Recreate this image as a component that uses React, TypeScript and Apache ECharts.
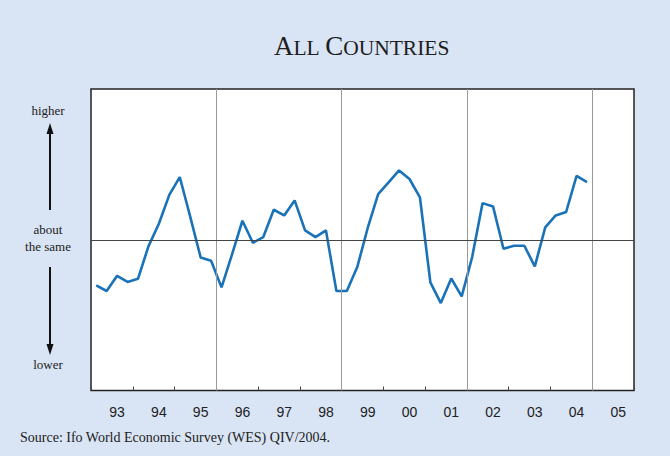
import React, { useEffect, useRef } from "react";
import * as echarts from "echarts";

const startYear = 1993;
const yearLabels = ["93", "94", "95", "96", "97", "98", "99", "00", "01", "02", "03", "04", "05"];
// Quarterly economic expectations balance, 1993Q1 .. 2004Q4
const values = [
  -30.3, -34.0, -23.9, -28.0,
  -25.9, -4.4, 10.6, 29.8,
  41.6, 15.3, -11.7, -13.9,
  -31.6, -9.9, 12.6, -2.0,
  1.8, 19.9, 16.1, 26.1,
  6.2, 1.8, 6.2, -34.0,
  -34.0, -18.1, 7.8, 30.3,
  38.0, 46.0, 40.3, 28.1,
  -28.3, -42.0, -25.7, -37.6,
  -11.5, 24.3, 22.1, -6.0,
  -4.0, -4.0, -17.7, 8.2,
  16.1, 18.4, 42.4, 38.3,
];
const gridYears = [1996, 1999, 2002, 2005];

const serif = "'Liberation Serif', 'Times New Roman', serif";
const sans = "'Liberation Sans', Arial, sans-serif";

export default function App() {
  const ref = useRef<HTMLDivElement>(null);
  useEffect(() => {
    document.body.style.margin = "0";
    const chart = echarts.init(ref.current!, null, { renderer: "svg" });
    const data = values.map((v, i) => [startYear + (i + 0.5) / 4, v]);
    const endYear = startYear + yearLabels.length;
    chart.setOption({
      animation: false,
      backgroundColor: "#d9e4f4",
      title: {
        left: 269,
        top: 27,
        text: "{b|A}{s|LL }{b|C}{s|OUNTRIES}",
        textStyle: {
          fontWeight: "normal",
          rich: {
            b: { fontFamily: serif, fontSize: 27, fontWeight: "normal", color: "#1e1e1e", verticalAlign: "bottom" },
            s: { fontFamily: serif, fontSize: 21.5, fontWeight: "normal", color: "#1e1e1e", verticalAlign: "bottom" },
          },
        },
      },
      grid: {
        left: 91,
        top: 89,
        width: 543,
        height: 301.5,
        show: true,
        backgroundColor: "#ffffff",
        borderColor: "#222",
        borderWidth: 1.5,
      },
      xAxis: [
        {
          type: "value",
          min: startYear,
          max: endYear,
          interval: 1,
          axisLine: { show: false, onZero: false },
          axisTick: { show: true, inside: true, length: 4, lineStyle: { color: "#444", width: 1 } },
          axisLabel: { show: false },
          splitLine: { show: false },
        },
        {
          type: "value",
          min: startYear,
          max: endYear,
          interval: 0.125,
          position: "bottom",
          axisLine: { show: false, onZero: false },
          axisTick: { show: false },
          splitLine: { show: false },
          axisLabel: {
            margin: 14,
            fontFamily: sans,
            fontSize: 14,
            color: "#222",
            formatter: (v: number) => {
              const frac = v - Math.floor(v);
              const idx = Math.floor(v) - startYear;
              if (Math.abs(frac - 0.625) < 1e-6 && idx >= 0 && idx < yearLabels.length) {
                return yearLabels[idx];
              }
              return "";
            },
          },
        },
      ],
      yAxis: { type: "value", min: -100, max: 100, show: false },
      series: [
        {
          type: "line",
          data,
          xAxisIndex: 0,
          symbol: "none",
          lineStyle: { color: "#1a72b8", width: 2.6 },
          markLine: {
            silent: true,
            symbol: "none",
            label: { show: false },
            data: [
              ...gridYears.map((y) => ({ xAxis: y, lineStyle: { color: "#999", width: 1, type: "solid" } })),
              { yAxis: 0, lineStyle: { color: "#444", width: 1.2, type: "solid" } },
            ],
          },
        },
      ],
      graphic: [
        { type: "text", x: 48, y: 110, style: { text: "higher", font: `13px ${serif}`, fill: "#222", textAlign: "center", textVerticalAlign: "middle" } },
        { type: "text", x: 48, y: 238, style: { text: "about\nthe same", font: `13px ${serif}`, fill: "#222", textAlign: "center", textVerticalAlign: "middle", lineHeight: 17 } },
        { type: "text", x: 48, y: 364, style: { text: "lower", font: `13px ${serif}`, fill: "#222", textAlign: "center", textVerticalAlign: "middle" } },
        { type: "line", shape: { x1: 50, y1: 210, x2: 50, y2: 132 }, style: { stroke: "#111", lineWidth: 2 } },
        { type: "polygon", shape: { points: [[50, 123], [46.5, 134], [53.5, 134]] }, style: { fill: "#111" } },
        { type: "line", shape: { x1: 50, y1: 267, x2: 50, y2: 346 }, style: { stroke: "#111", lineWidth: 2 } },
        { type: "polygon", shape: { points: [[50, 355], [46.5, 344], [53.5, 344]] }, style: { fill: "#111" } },
        { type: "text", x: 20, y: 437, style: { text: "Source: Ifo World Economic Survey (WES) QIV/2004.", font: `14px ${serif}`, fill: "#222", textAlign: "left", textVerticalAlign: "middle" } },
      ],
    });
    return () => chart.dispose();
  }, []);
  return <div ref={ref} style={{ width: 670, height: 456 }} />;
}
